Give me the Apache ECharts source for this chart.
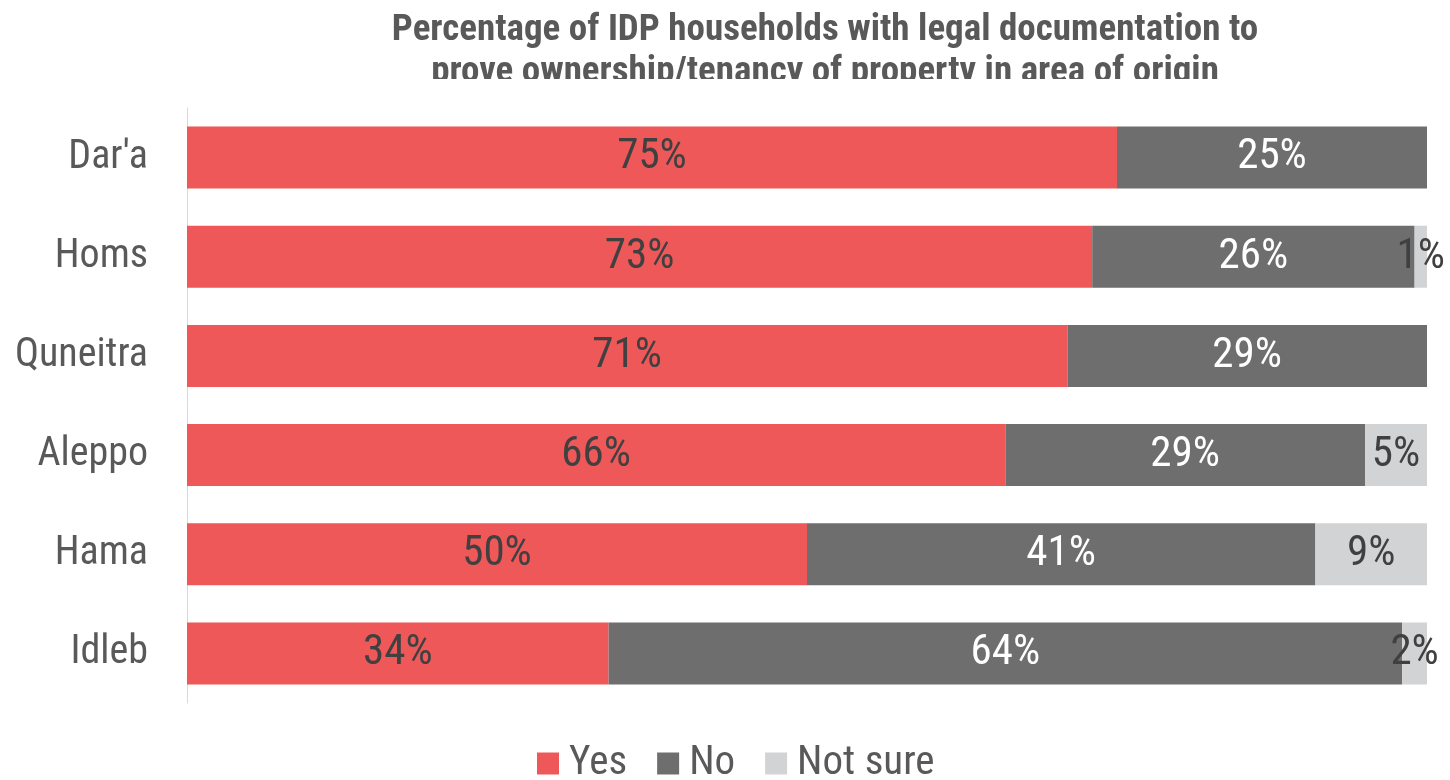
<!DOCTYPE html>
<html>
<head>
<meta charset="utf-8">
<style>
  html, body { margin: 0; padding: 0; background: #ffffff; }
  #chart { width: 1450px; height: 780px; }
</style>
<script src="https://cdn.jsdelivr.net/npm/echarts@6/dist/echarts.min.js"></script>
</head>
<body>
<div id="chart"></div>
<script>
// Governorates of origin, top to bottom
const categories = ["Dar'a", 'Homs', 'Quneitra', 'Aleppo', 'Hama', 'Idleb'];
// Share of IDP households (%) per answer
const yesValues = [75, 73, 71, 66, 50, 34];
const noValues = [25, 26, 29, 29, 41, 64];
const notSureValues = [0, 1, 0, 5, 9, 2];
const seriesNames = ['Yes', 'No', 'Not sure'];

const FONT = "'Roboto Condensed', 'Liberation Sans Narrow', 'Arial Narrow', sans-serif";
const colors = ['#EE5859', '#6E6E6E', '#D2D3D5'];
const labelColors = ['#404040', '#ffffff', '#404040'];

const chart = echarts.init(document.getElementById('chart'), null, { renderer: 'canvas' });

function makeSeries(name, values, idx) {
  return {
    name: name,
    type: 'bar',
    stack: 'total',
    barWidth: 62,
    data: values,
    itemStyle: { color: colors[idx] },
    label: {
      show: true,
      position: 'inside',
      color: labelColors[idx],
      fontFamily: FONT,
      fontSize: 43,
      formatter: p => (p.value > 0 ? p.value + '%' : '')
    },
    emphasis: { disabled: true }
  };
}

chart.setOption({
  animation: false,
  backgroundColor: '#ffffff',
  textStyle: { fontFamily: FONT },
  color: colors,
  title: {
    text: 'Percentage of IDP households with legal documentation to\nprove ownership/tenancy of property in area of origin',
    left: 825,
    textAlign: 'center',
    top: 10,
    padding: 0,
    textStyle: {
      fontFamily: FONT,
      fontSize: 37,
      fontWeight: 'bold',
      color: '#595959',
      lineHeight: 42
    }
  },
  legend: {
    data: seriesNames,
    left: 537,
    top: 743,
    padding: 0,
    itemWidth: 22,
    itemHeight: 22,
    itemGap: 30,
    icon: 'rect',
    textStyle: { fontFamily: FONT, fontSize: 41, color: '#595959', padding: [0, 0, 0, 5] }
  },
  grid: { left: 187, right: 23, top: 108, bottom: 77, containLabel: false, outerBoundsMode: 'none' },
  xAxis: {
    type: 'value',
    min: 0,
    max: 100,
    show: false
  },
  yAxis: {
    type: 'category',
    data: categories,
    inverse: true,
    axisLine: { show: true, lineStyle: { color: '#D9D9D9', width: 1 } },
    axisTick: { show: false },
    axisLabel: { fontFamily: FONT, fontSize: 40, color: '#595959', margin: 39 }
  },
  series: [
    makeSeries(seriesNames[0], yesValues, 0),
    makeSeries(seriesNames[1], noValues, 1),
    makeSeries(seriesNames[2], notSureValues, 2)
  ],
  graphic: [{
    // band under the title that trims its second line
    type: 'rect',
    z: 100,
    shape: { x: 300, y: 79, width: 1100, height: 26 },
    style: { fill: '#ffffff' },
    silent: true
  }]
});
</script>
</body>
</html>
